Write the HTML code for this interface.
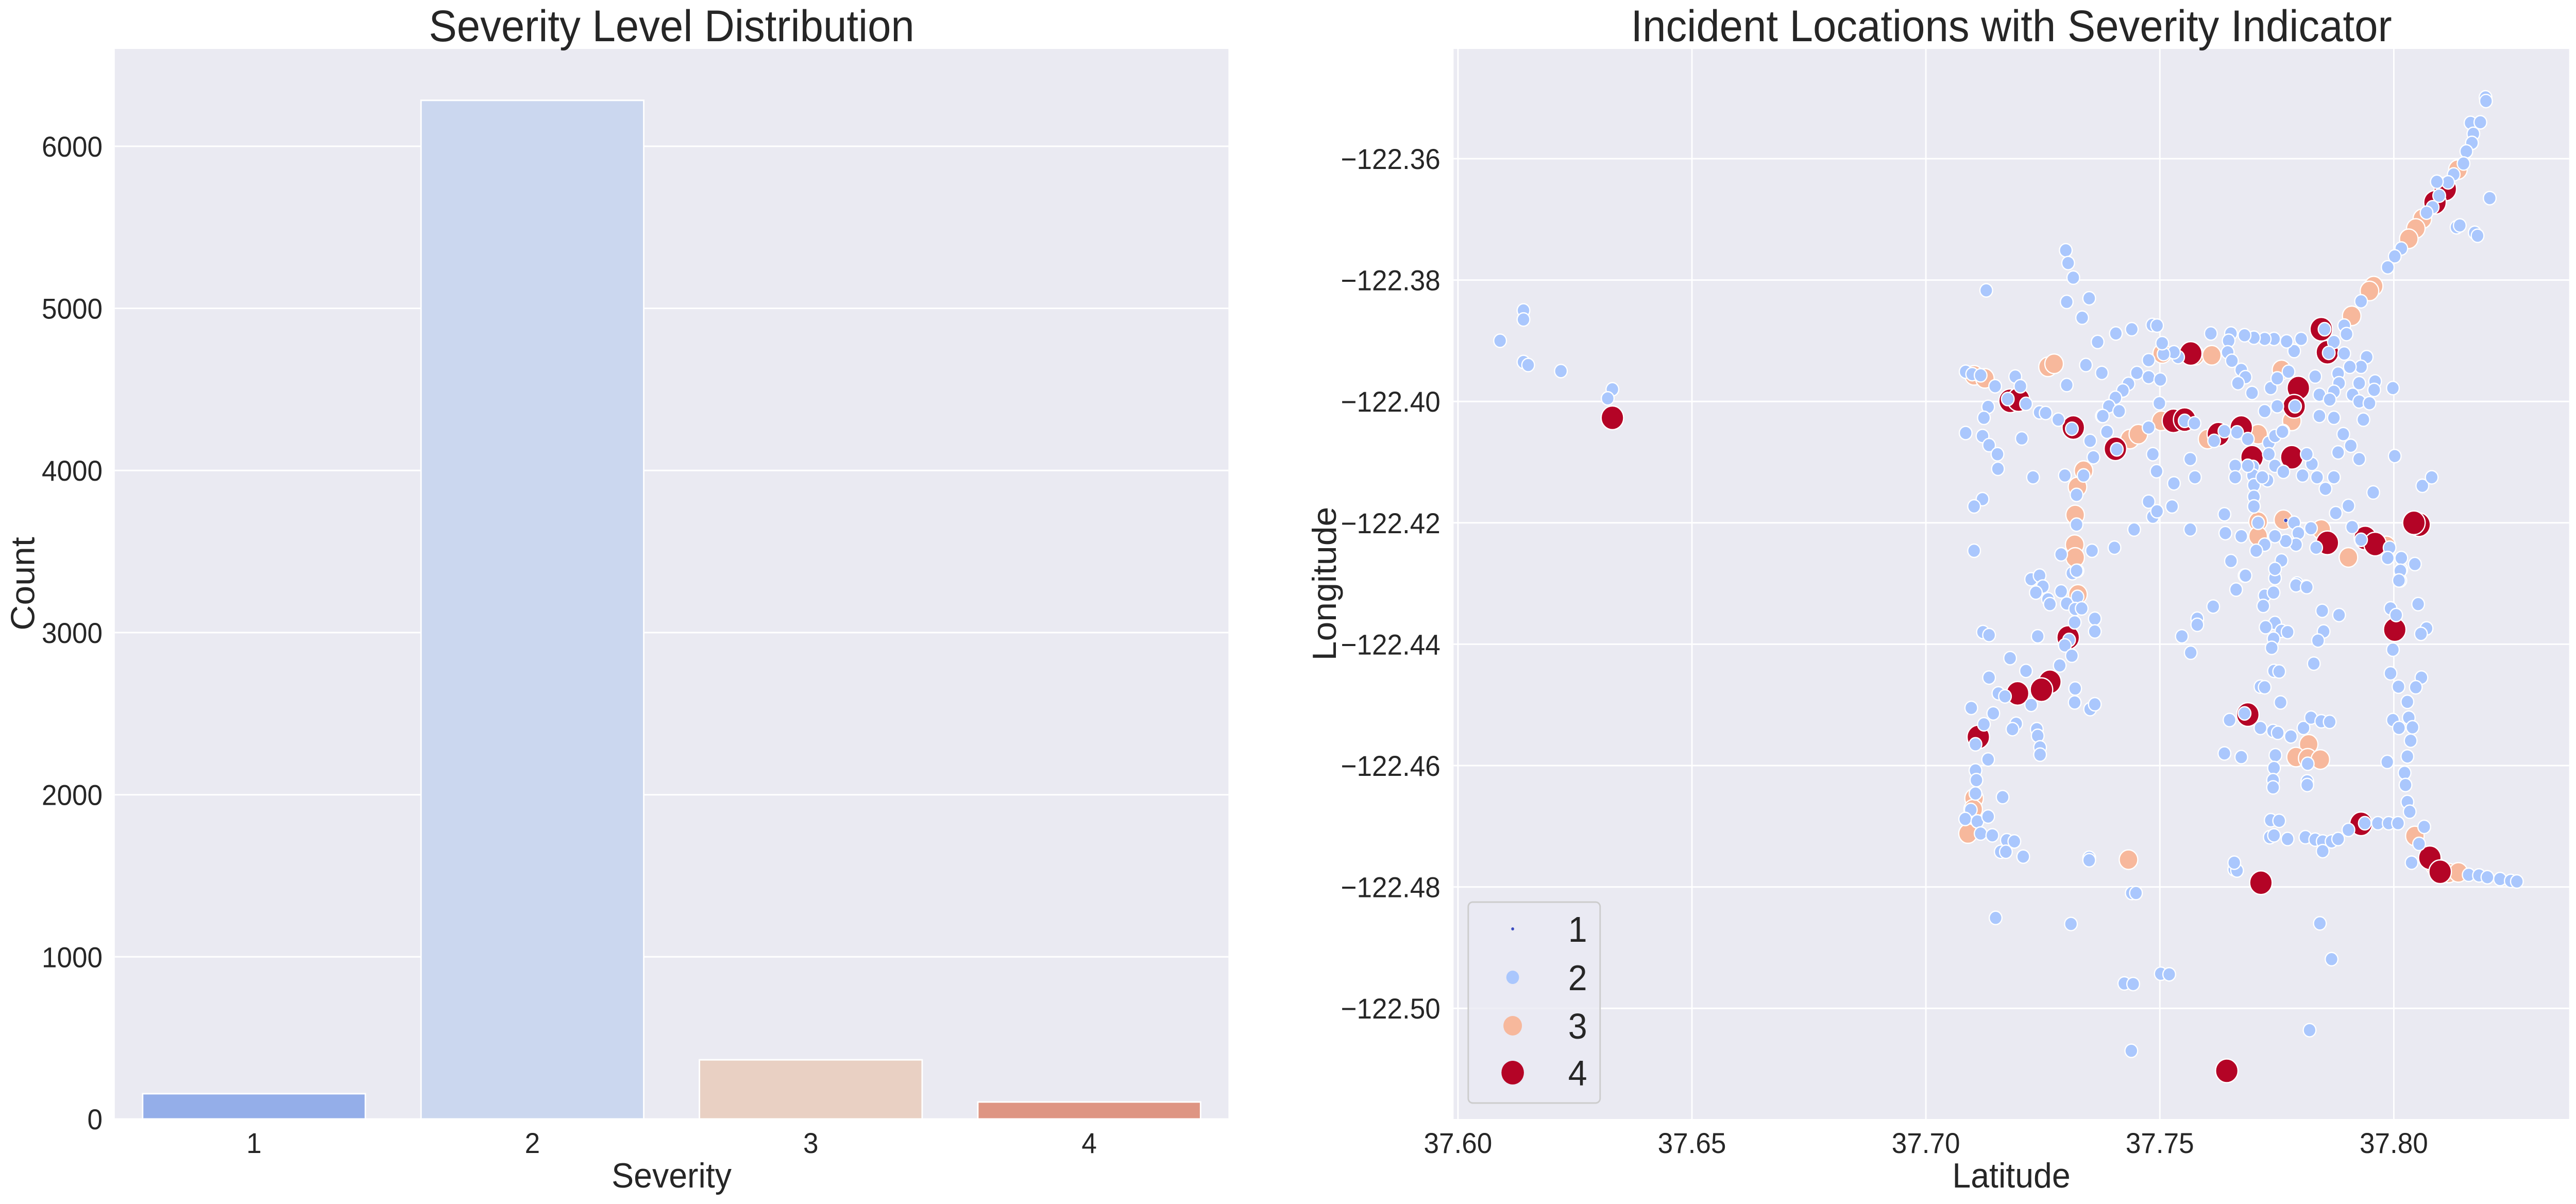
<!DOCTYPE html>
<html><head><meta charset="utf-8"><style>
html,body{margin:0;padding:0;background:#fff;overflow:hidden;width:100%;height:100%;}
svg{display:block;position:fixed;left:0;top:0;width:100vw;height:100vh;font-family:"Liberation Sans",Arial,sans-serif;}
</style></head><body>
<svg id="fig" viewBox="0 0 5274 2337" preserveAspectRatio="none" xmlns="http://www.w3.org/2000/svg">
<rect width="5274" height="2337" fill="#ffffff"/>
<g id="left"></g>
<g id="right"></g>
</svg>
<script>
// ---------- Bar chart data ----------
const barCategories = ["1","2","3","4"];
const barCounts = [156, 6283, 365, 105];
const barColors = ["#94aee9","#cbd7ef","#e9d0c3","#de9583"];
const barTicks = [0,1000,2000,3000,4000,5000,6000];

// ---------- Scatter data ----------
const lats = [37.609,37.614,37.614,37.614,37.615,37.622,37.633,37.632,37.633,
37.7225,37.7243,37.7250,37.7235,37.7261,37.7265,37.7289,37.7301,37.7313,37.7324,37.7325,37.7324,37.7319,37.7333,37.7361,37.7318,37.7361,37.7122,37.7135,37.7239,37.7304,37.7304,37.7306,37.7297,37.7312,37.7286,37.7180,37.7214,37.7135,37.7265,37.7247,37.7196,37.7196,37.7155,37.7169,37.7225,37.7319,37.7318,37.7351,37.7361,37.7097,37.7144,37.7124,37.7193,37.7185,37.7237,37.7239,37.7244,37.7244,37.7112,37.7112,37.7106,37.7133,37.7106,37.7108,37.7106,37.7103,37.7101,37.7096,37.7084,37.7110,37.7133,37.7164,37.7090,37.7117,37.7142,37.7173,37.7189,37.7160,37.7171,37.7208,37.7349,37.7349,37.7433,37.7440,37.7449,37.7149,37.7310,37.7502,37.7520,37.7424,37.7443,37.7439,37.7643,37.7820,37.7867,37.7842,37.7716,37.7659,37.7665,37.7659,
37.7681,37.7663,37.7614,37.7580,37.7580,37.7547,37.7566,37.7746,37.7746,37.7724,37.7743,37.7721,37.7746,37.7726,37.7760,37.7773,37.7743,37.7739,37.7744,37.7755,37.7715,37.7724,37.7758,37.7793,37.7812,37.7847,37.7883,37.7850,37.7838,37.7829,37.7688,37.7681,37.7649,37.7715,37.7742,37.7752,37.7780,37.7807,37.7823,37.7845,37.7863,37.7818,37.7791,37.7816,37.7843,37.7816,37.7747,37.7744,37.7742,37.7742,37.7815,37.7815,37.7638,37.7674,37.7737,37.7755,37.7735,37.7744,37.7773,37.7811,37.7832,37.7848,37.7848,37.7867,37.7881,37.7903,37.7930,37.7938,37.7966,37.7989,37.8009,
37.8002,37.8016,37.8014,37.7993,37.8005,37.8052,37.8070,37.8058,37.7998,37.7993,37.8059,37.8010,37.8047,37.8029,37.7998,37.8032,37.8011,37.8040,37.8036,37.8029,37.7986,37.8023,37.8025,37.8029,37.8034,37.8065,37.8045,37.8054,37.8038,37.8077,37.8074,37.8088,37.8099,37.8117,37.8138,37.8160,37.8182,37.8200,37.8227,37.8250,37.8263,
37.8196,37.8197,37.8164,37.8185,37.8170,37.8167,37.8155,37.8149,37.8137,37.8128,37.8116,37.8092,37.8110,37.8097,37.8088,37.8083,37.8070,37.8061,37.8047,37.8032,37.8016,37.8002,37.7987,37.8205,37.8134,37.8141,37.8173,37.8179,37.7957,37.7948,37.7930,37.7910,37.7894,37.7845,37.7852,37.7899,37.7872,37.7858,37.7861,37.7894,37.7942,37.7930,37.7906,37.7881,37.7883,37.7832,37.7960,37.7926,37.7998,37.7958,37.7912,37.7872,37.7841,37.7926,37.7948,37.7863,37.7872,37.7935,37.7841,37.7892,
37.7796,37.7787,37.7789,37.7782,37.7764,37.7751,37.7737,37.7751,37.7760,37.7775,37.7787,37.7802,37.7771,37.7744,37.7724,37.7701,37.7681,37.7652,37.7647,37.7645,37.7654,37.7674,37.7683,37.7667,37.7697,37.7609,37.7566,37.7575,37.7611,37.7539,37.7530,37.7505,37.7508,37.7505,37.7476,37.7451,37.7433,37.7421,37.7405,37.7391,37.7376,37.7476,37.7501,37.7499,37.7484,37.7494,37.7440,37.7406,37.7367,37.7342,37.7376,37.7301,37.7299,37.7304,37.7315,37.7301,37.7349,37.7334,37.7129,37.7261,37.7274,
37.7085,37.7099,37.7117,37.7103,37.7126,37.7148,37.7191,37.7202,37.7180,37.7198,37.7175,37.7214,37.7133,37.7124,37.7085,37.7121,37.7135,37.7153,37.7154,37.7205,37.7243,37.7256,37.7283,37.7315,37.7312,37.7351,37.7378,37.7387,37.7413,37.7405,37.7408,37.7436,37.7358,37.7337,37.7337,37.7324,37.7322,37.7319,37.7322,37.7318,37.7319,37.7322,37.7355,37.7289,37.7297,37.7229,37.7121,37.7103,37.7103,37.7403,37.7445,37.7476,37.7485,37.7494,37.7526,37.7485,37.7493,37.7530,37.7565,37.7575,37.7565,37.7638,37.7640,37.7674,
37.7454,37.7476,37.7503,37.7529,37.7553,37.7553,37.7574,37.7602,37.7616,37.7625,37.7638,37.7665,37.7674,37.7688,37.7710,37.7733,37.7746,37.7762,37.7697,37.7782,37.7724,37.7699,37.7699,37.7701,37.7701,37.7701,37.7710,37.7710,37.7710,37.7661,37.7661,37.7688,37.7733,37.7746,37.7764,37.7730,37.7719,37.7805,37.7836,37.7872,37.7825,37.7814,37.7854,37.7908,37.7881,37.7926,37.8002,37.7956,37.8061,37.8081,37.8054,37.8043,37.7858,37.7845,37.7939,37.7960,37.7984,37.7930,37.7991,37.7987,37.8016,37.8045,37.8014,37.8011,37.7903,37.7911,37.7876,37.7903,37.7787,37.7796,37.7791,37.7823,37.7834,37.7769,37.7746,37.7760,37.7746,37.7791,37.7814,37.7724,37.7706,37.7683,37.7652,37.7764,37.7769];
const lons = [-122.390,-122.385,-122.3865,-122.3935,-122.394,-122.395,-122.398,-122.3995,-122.4027,
-122.4293,-122.4287,-122.4305,-122.4315,-122.4326,-122.4334,-122.4313,-122.4333,-122.4283,-122.4279,-122.4318,-122.4322,-122.4342,-122.4341,-122.4358,-122.4364,-122.4379,-122.4380,-122.4385,-122.4387,-122.4389,-122.4391,-122.4393,-122.4402,-122.4419,-122.4435,-122.4423,-122.4444,-122.4455,-122.4462,-122.4475,-122.4481,-122.4482,-122.4481,-122.4486,-122.4500,-122.4473,-122.4496,-122.4507,-122.4499,-122.4505,-122.4514,-122.4532,-122.4531,-122.4540,-122.4540,-122.4551,-122.4570,-122.4582,-122.4553,-122.4554,-122.4565,-122.4590,-122.4608,-122.4624,-122.4646,-122.4654,-122.4672,-122.4673,-122.4688,-122.4692,-122.4684,-122.4652,-122.4712,-122.4712,-122.4715,-122.4723,-122.4725,-122.4742,-122.4742,-122.4750,-122.4752,-122.4756,-122.4755,-122.4810,-122.4810,-122.4851,-122.4861,-122.4943,-122.4944,-122.4959,-122.4960,-122.5070,-122.5103,-122.5036,-122.4919,-122.4860,-122.4793,-122.4771,-122.4773,-122.4760,
-122.4287,-122.4310,-122.4338,-122.4358,-122.4368,-122.4387,-122.4414,-122.4276,-122.4291,-122.4320,-122.4315,-122.4337,-122.4365,-122.4372,-122.4378,-122.4380,-122.4391,-122.4406,-122.4444,-122.4445,-122.4470,-122.4471,-122.4496,-122.4300,-122.4305,-122.4345,-122.4352,-122.4379,-122.4394,-122.4432,-122.4516,-122.4514,-122.4525,-122.4538,-122.4543,-122.4546,-122.4552,-122.4538,-122.4521,-122.4527,-122.4528,-122.4565,-122.4586,-122.4588,-122.4590,-122.4597,-122.4583,-122.4604,-122.4624,-122.4636,-122.4626,-122.4632,-122.4580,-122.4586,-122.4690,-122.4691,-122.4718,-122.4715,-122.4721,-122.4718,-122.4722,-122.4725,-122.4741,-122.4725,-122.4721,-122.4706,-122.4696,-122.4695,-122.4695,-122.4695,-122.4695,
-122.4376,-122.4277,-122.4295,-122.4341,-122.4352,-122.4334,-122.4374,-122.4383,-122.4409,-122.4448,-122.4455,-122.4470,-122.4471,-122.4495,-122.4525,-122.4521,-122.4538,-122.4537,-122.4559,-122.4585,-122.4594,-122.4612,-122.4632,-122.4660,-122.4676,-122.4701,-122.4716,-122.4729,-122.4760,-122.4752,-122.4752,-122.4765,-122.4775,-122.4777,-122.4776,-122.4780,-122.4781,-122.4784,-122.4787,-122.4790,-122.4791,
-122.3499,-122.3505,-122.3541,-122.3540,-122.3559,-122.3574,-122.3588,-122.3608,-122.3618,-122.3626,-122.3639,-122.3638,-122.3650,-122.3661,-122.3672,-122.3680,-122.3689,-122.3699,-122.3715,-122.3732,-122.3748,-122.3761,-122.3779,-122.3665,-122.3713,-122.3710,-122.3722,-122.3727,-122.3810,-122.3818,-122.3835,-122.3859,-122.3875,-122.3881,-122.3881,-122.3889,-122.3902,-122.3919,-122.3920,-122.3921,-122.3927,-122.3943,-122.3943,-122.3954,-122.3970,-122.3959,-122.3967,-122.3970,-122.3978,-122.3981,-122.3989,-122.3984,-122.3989,-122.4000,-122.4003,-122.3997,-122.4027,-122.4030,-122.4024,-122.4054,
-122.3978,-122.4008,-122.4008,-122.4032,-122.4049,-122.4008,-122.3978,-122.3962,-122.3948,-122.3951,-122.3917,-122.3897,-122.3901,-122.3897,-122.3897,-122.3895,-122.3891,-122.3888,-122.3900,-122.3919,-122.3933,-122.3948,-122.3960,-122.3970,-122.3986,-122.3888,-122.3921,-122.3924,-122.3924,-122.3927,-122.3919,-122.3921,-122.3922,-122.3904,-122.3932,-122.3953,-122.3971,-122.3982,-122.3994,-122.4008,-122.4024,-122.3960,-122.3964,-122.4003,-122.3874,-122.3875,-122.3881,-122.3888,-122.3902,-122.3940,-122.3953,-122.3973,-122.3751,-122.3772,-122.3796,-122.3836,-122.3830,-122.3862,-122.3817,-122.3943,-122.3938,
-122.3951,-122.3955,-122.3957,-122.3957,-122.3962,-122.3975,-122.3959,-122.3975,-122.3999,-122.3997,-122.3996,-122.4004,-122.4009,-122.4027,-122.4052,-122.4057,-122.4072,-122.4087,-122.4111,-122.4061,-122.4018,-122.4019,-122.4030,-122.4043,-122.4045,-122.4065,-122.4024,-122.4050,-122.4016,-122.4078,-122.4079,-122.4062,-122.4092,-122.4114,-122.4122,-122.4141,-122.4154,-122.4187,-122.4203,-122.4236,-122.4257,-122.4279,-122.4246,-122.4252,-122.4122,-122.4125,-122.4161,-122.4173,-122.4246,-122.4241,-122.4211,-122.4165,-122.4190,-122.4181,-122.4173,-122.4087,-122.4115,-122.4135,-122.4095,-122.4125,-122.4211,-122.4186,-122.4217,-122.4222,
-122.4054,-122.4043,-122.4032,-122.4032,-122.4030,-122.4032,-122.4036,-122.4062,-122.4065,-122.4054,-122.4049,-122.4051,-122.4043,-122.4062,-122.4054,-122.4068,-122.4057,-122.4050,-122.4092,-122.4092,-122.4016,-122.4108,-122.4122,-122.4138,-122.4157,-122.4173,-122.4198,-122.4222,-122.4200,-122.4106,-122.4125,-122.4106,-122.4087,-122.4106,-122.4116,-122.4130,-122.4125,-122.4122,-122.4125,-122.4125,-122.4103,-122.4087,-122.4144,-122.4073,-122.4084,-122.4095,-122.4090,-122.4150,-122.4139,-122.4125,-122.4203,-122.4200,-122.4233,-122.4211,-122.4225,-122.4235,-122.4238,-122.4228,-122.4241,-122.4258,-122.4258,-122.4268,-122.4279,-122.4295,-122.4257,-122.4207,-122.4184,-122.4172,-122.4200,-122.4217,-122.4236,-122.4209,-122.4241,-122.4230,-122.4222,-122.4262,-122.4276,-122.4303,-122.4306,-122.4236,-122.4246,-122.4287,-122.4263,-122.4195,-122.4196];
const severities = [2,2,2,2,2,2,2,2,4,
2,2,2,2,2,2,2,2,2,2,3,2,2,2,2,2,2,2,2,2,4,3,2,2,2,2,2,2,2,4,4,4,3,2,2,2,2,2,2,2,2,2,2,2,2,2,2,2,2,4,3,2,2,2,2,2,3,3,2,2,2,2,2,3,2,2,2,2,2,2,2,2,2,3,2,2,2,2,2,2,2,2,2,4,2,2,2,4,2,2,2,
2,2,2,2,2,2,2,2,2,2,2,2,2,2,2,2,2,2,2,2,2,2,2,2,2,2,2,2,2,2,4,2,2,2,2,2,2,2,2,2,2,3,3,3,3,2,2,2,2,2,2,2,2,2,2,2,2,2,2,2,2,2,2,2,2,2,4,2,2,2,2,
4,2,2,2,2,2,2,2,2,2,2,2,2,2,2,2,2,2,2,2,2,2,2,2,2,2,3,2,2,4,3,3,4,3,3,2,2,2,2,2,2,
2,2,2,2,2,2,2,2,3,2,2,2,4,2,4,2,2,3,3,3,2,2,2,2,2,2,2,2,3,3,2,3,2,4,2,2,2,4,2,2,2,2,2,2,2,2,2,2,2,2,2,2,2,2,2,2,2,2,2,2,
4,4,2,3,2,2,2,2,3,2,2,2,2,2,2,2,2,2,2,2,2,2,2,2,2,2,4,3,3,2,2,3,2,2,2,2,2,2,2,2,2,2,2,2,2,2,2,2,2,2,2,2,2,2,2,2,2,2,2,3,3,
2,2,2,3,3,2,2,2,4,4,2,2,2,2,2,2,2,2,2,2,2,2,2,4,2,2,2,2,2,4,2,3,2,3,2,3,2,3,2,3,3,2,2,2,2,2,2,2,2,2,2,2,2,2,2,2,2,2,2,2,2,2,2,2,
3,2,3,4,4,2,2,3,2,4,2,2,4,2,3,2,2,2,4,4,2,2,2,2,2,2,3,3,2,2,2,2,2,2,2,2,2,2,2,2,2,2,2,2,2,2,2,2,2,2,4,4,4,3,4,4,3,2,2,2,2,2,2,2,3,2,2,2,2,2,2,2,2,2,2,2,2,2,2,2,2,2,2,3,1];
const latTicks = [37.60,37.65,37.70,37.75,37.80];
const lonTicks = [-122.36,-122.38,-122.40,-122.42,-122.44,-122.46,-122.48,-122.50];
const legendLevels = [1,2,3,4];
const sevColors = {1:"#3b4cc0",2:"#aac7fd",3:"#f7b89c",4:"#b40426"};
const sevRadius = {1:4,2:13,3:19,4:23};

const NS = "http://www.w3.org/2000/svg";
function mk(parent, tag, attrs, text){
  const e = document.createElementNS(NS, tag);
  for (const k in attrs) e.setAttribute(k, attrs[k]);
  if (text !== undefined) e.textContent = text;
  parent.appendChild(e);
  return e;
}
const TXT = "#262626";

// ===== Left bar chart =====
(function(){
  const g = document.getElementById('left');
  const L = 235, R = 2515, T = 95, B = 2172;
  const ymax = 6600;
  const y = v => B - v/ymax*(B-T);
  const step = (R-L)/barCategories.length;
  const xc = i => L + step*(i+0.5);
  const bg = mk(g,'rect',{x:L,y:T,width:R-L,height:B-T,fill:'#eaeaf2'});
  
  
  barTicks.forEach(t=>{
    const ln = mk(g,'line',{x1:L,x2:R,y1:y(t),y2:y(t),stroke:'#ffffff','stroke-width':3});
    
    
    const tx = mk(g,'text',{x:210,y:y(t)+20,'text-anchor':'end','font-size':56,fill:TXT},String(t));
    
    
  });
  barCategories.forEach((c,i)=>{
    const w = step*0.8;
    const r = mk(g,'rect',{x:xc(i)-w/2,y:y(barCounts[i]),width:w,height:B-y(barCounts[i]),fill:barColors[i],stroke:'#ffffff','stroke-width':3});
    
    
    const tx = mk(g,'text',{x:xc(i),y:2238,'text-anchor':'middle','font-size':56,fill:TXT},c);
    
    
  });
  const t1 = mk(g,'text',{x:(L+R)/2,y:80,'text-anchor':'middle','font-size':86,fill:TXT},'Severity Level Distribution');
  
  
  const xl = mk(g,'text',{x:(L+R)/2,y:2305,'text-anchor':'middle','font-size':68,fill:TXT},'Severity');
  
  
  const yl = mk(g,'text',{x:0,y:0,'text-anchor':'middle','font-size':68,fill:TXT,transform:'translate(70,1133) rotate(-90)'},'Count');
  
  
})();

// ===== Right scatter chart =====
(function(){
  const g = document.getElementById('right');
  const L = 2976, R = 5260, T = 95, B = 2172;
  const x = lat => 2985 + (lat-37.60)/0.05*479;
  const y = lon => 308 + (-122.36-lon)/0.02*235.6;
  const bg = mk(g,'rect',{x:L,y:T,width:R-L,height:B-T,fill:'#eaeaf2'});
  
  
  latTicks.forEach(t=>{
    const ln = mk(g,'line',{x1:x(t),x2:x(t),y1:T,y2:B,stroke:'#ffffff','stroke-width':3});
    
    
    const tx = mk(g,'text',{x:x(t),y:2238,'text-anchor':'middle','font-size':56,fill:TXT},t.toFixed(2));
    
    
  });
  lonTicks.forEach(t=>{
    const ln = mk(g,'line',{x1:L,x2:R,y1:y(t),y2:y(t),stroke:'#ffffff','stroke-width':3});
    
    
    const tx = mk(g,'text',{x:2949,y:y(t)+20,'text-anchor':'end','font-size':56,fill:TXT},'\u2212'+Math.abs(t).toFixed(2));
    
    
  });
  const pts = g.appendChild(document.createElementNS(NS,'g'));
  
  
  [3,4,2,1].forEach(s=>{
    for (let i=0;i<lats.length;i++){
      if (severities[i]!==s) continue;
      const c = mk(pts,'circle',{cx:x(lats[i]),cy:y(lons[i]),r:sevRadius[s],fill:sevColors[s],stroke:'#ffffff','stroke-width':s===1?1:2.5});
      
      
    }
  });
  const lg = g.appendChild(document.createElementNS(NS,'g'));
  
  
  const box = mk(lg,'rect',{x:3006,y:1751,width:270,height:390,rx:9,fill:'#eaeaf2','fill-opacity':0.8,stroke:'#cccccc','stroke-width':3});
  
  
  const ly = [1803,1897,1991,2082];
  legendLevels.forEach((s,i)=>{
    const c = mk(lg,'circle',{cx:3097,cy:ly[i],r:sevRadius[s]-(s===1?1:0),fill:sevColors[s]});
    
    
    const t = mk(lg,'text',{x:3230,y:ly[i]+25,'text-anchor':'middle','font-size':70,fill:TXT},String(s));
    
    
  });
  const t1 = mk(g,'text',{x:(L+R)/2,y:80,'text-anchor':'middle','font-size':86,fill:TXT},'Incident Locations with Severity Indicator');
  
  
  const xl = mk(g,'text',{x:(L+R)/2,y:2305,'text-anchor':'middle','font-size':68,fill:TXT},'Latitude');
  
  
  const yl = mk(g,'text',{x:0,y:0,'text-anchor':'middle','font-size':68,fill:TXT,transform:'translate(2735,1133) rotate(-90)'},'Longitude');
  
  
})();
</script>
</body></html>
